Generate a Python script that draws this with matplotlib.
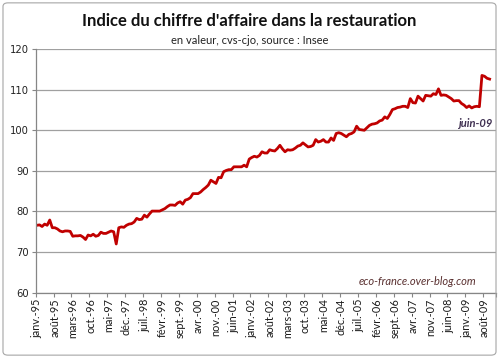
import matplotlib
matplotlib.use("Agg")
import matplotlib.pyplot as plt
from matplotlib.patches import FancyBboxPatch

# Monthly index, janv-95 .. oct-09
values_1995 = [76.6, 76.7, 76.3, 76.9, 76.6, 77.9, 76.0, 76.0, 75.7, 75.2, 75.0, 75.2]
values_1996 = [75.2, 75.1, 73.9, 74.0, 74.0, 74.1, 73.7, 73.1, 74.2, 74.0, 74.4, 73.9]
values_1997 = [74.1, 74.9, 74.6, 74.6, 74.9, 75.2, 75.0, 72.0, 76.0, 76.2, 76.1, 76.6]
values_1998 = [76.9, 77.0, 77.4, 78.3, 78.0, 78.1, 79.1, 78.6, 79.4, 80.1, 80.1, 80.1]
values_1999 = [80.1, 80.4, 80.7, 81.2, 81.6, 81.6, 81.5, 82.1, 82.4, 81.8, 82.8, 83.0]
values_2000 = [83.4, 84.4, 84.4, 84.4, 84.8, 85.4, 85.9, 86.5, 87.7, 87.3, 86.9, 88.4]
values_2001 = [88.3, 89.8, 90.1, 90.3, 90.3, 91.0, 91.0, 91.0, 91.0, 91.4, 91.0, 92.9]
values_2002 = [93.3, 93.6, 93.4, 93.8, 94.7, 94.4, 94.4, 95.2, 95.0, 94.9, 95.5, 96.3]
values_2003 = [95.4, 94.7, 95.2, 95.1, 95.2, 95.6, 96.1, 96.3, 96.9, 96.4, 95.9, 96.0]
values_2004 = [96.3, 97.7, 97.1, 97.3, 97.7, 97.1, 97.1, 98.1, 97.5, 99.2, 99.4, 99.2]
values_2005 = [98.8, 98.4, 99.0, 99.2, 99.6, 101.0, 100.2, 100.1, 100.0, 100.6, 101.2, 101.5]
values_2006 = [101.6, 101.8, 102.3, 102.5, 103.3, 102.9, 103.9, 105.1, 105.3, 105.6, 105.7, 105.9]
values_2007 = [105.9, 105.6, 107.8, 106.8, 106.7, 108.4, 107.8, 107.2, 108.6, 108.5, 108.4, 109.0]
values_2008 = [108.8, 110.2, 108.6, 108.7, 108.6, 108.2, 107.8, 107.2, 107.3, 107.3, 106.6, 106.2]
values_2009 = [105.6, 106.0, 105.5, 105.8, 105.9, 105.8, 113.5, 113.3, 112.8, 112.6]

values = (values_1995 + values_1996 + values_1997 + values_1998 + values_1999 +
          values_2000 + values_2001 + values_2002 + values_2003 + values_2004 +
          values_2005 + values_2006 + values_2007 + values_2008 + values_2009)

n_months = 180  # axis runs janv-95 .. déc-09
tick_labels = ["janv.-95", "août-95", "mars-96", "oct.-96", "mai-97", "déc.-97",
               "juil.-98", "févr.-99", "sept.-99", "avr.-00", "nov.-00", "juin-01",
               "janv.-02", "août-02", "mars-03", "oct.-03", "mai-04", "déc.-04",
               "juil.-05", "févr.-06", "sept.-06", "avr.-07", "nov.-07", "juin-08",
               "janv.-09", "août-09"]
label_step = 7

fig = plt.figure(figsize=(4.99, 3.58), dpi=100)
fig.patches.append(FancyBboxPatch((0.006, 0.008), 0.988, 0.984, boxstyle="round,pad=0,rounding_size=0.01",
                                  transform=fig.transFigure, fill=False, edgecolor="#a6a6a6", linewidth=0.8))

ax = fig.add_axes([0.0715, 0.1824, 0.9225, 0.6806])
ax.plot(range(len(values)), values, color="#c00000", linewidth=2.0, solid_joinstyle="round")

ax.set_xlim(-0.5, n_months - 0.5)
ax.set_ylim(60, 120)
ax.set_yticks(range(60, 121, 10))
ax.yaxis.grid(True, color="#a0a0a0", linewidth=0.9)
ax.set_axisbelow(True)
for t in ax.get_yticklabels():
    t.set_fontfamily("DejaVu Sans")
ax.tick_params(axis="y", labelsize=7.2, length=3, color="#868686", pad=2, labelcolor="#222222")

# tick marks between categories, labels centered on categories
ax.set_xticks([k - 0.5 for k in range(0, n_months, label_step)] + [n_months - 0.5])
ax.set_xticklabels([])
ax.set_xticks([k * label_step for k in range(len(tick_labels))], minor=True)
ax.set_xticklabels(tick_labels, minor=True, rotation=90, fontsize=7.8, fontfamily="Lato", color="#1a1a1a")
ax.tick_params(axis="x", which="major", length=3, color="#868686")
ax.tick_params(axis="x", which="minor", length=0, pad=4)

for side in ("top", "right"):
    ax.spines[side].set_visible(False)
for side in ("left", "bottom"):
    ax.spines[side].set_color("#868686")
    ax.spines[side].set_linewidth(0.9)

fig.text(0.5, 0.94, "Indice du chiffre d'affaire dans la restauration", ha="center", va="center",
         fontsize=12, fontweight="bold", fontfamily="Lato", color="#111111")
fig.text(0.5, 0.888, "en valeur, cvs-cjo, source : Insee", ha="center", va="center",
         fontsize=8, fontfamily="Lato", color="#222222")

ax.annotate("juin-09", xy=(173, values[173]), xytext=(-3, -12), textcoords="offset points",
            ha="center", va="center", fontsize=8, fontstyle="italic", fontweight="bold",
            fontfamily="Lato", color="#403152")
ax.text(0.8305, 0.048, "eco-france.over-blog.com", transform=ax.transAxes, ha="center", va="center",
        fontsize=8, fontstyle="italic", fontfamily="Lato", color="#5a3030")

fig.savefig("out.png", dpi=100)
